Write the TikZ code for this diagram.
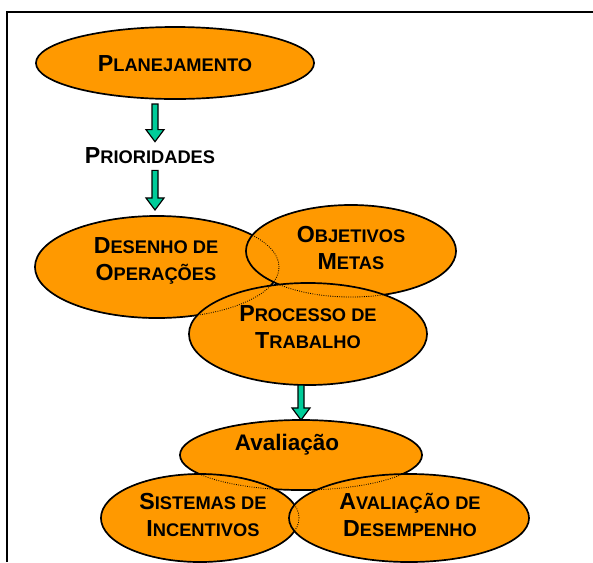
\documentclass[tikz,border=0pt]{standalone}
\usepackage{fontspec}
\setmainfont{Liberation Sans}
\usepackage{tikz}
\usetikzlibrary{shapes, calc, positioning}
\definecolor{bubbleorange}{RGB}{255,153,0}
\definecolor{arrowgreen}{RGB}{0,204,153}
\tikzstyle{bubble} = [ellipse, draw=black, line width=1.2pt, fill=bubbleorange, inner sep=0pt, outer sep=0pt]
\tikzstyle{caption} = [inner sep=0pt, align=center, font=\bfseries\fontsize{13}{19}\selectfont]
\tikzstyle{blockarrow} = [fill=arrowgreen, draw=black, line width=0.8pt, line join=miter]
\tikzstyle{hidden} = [densely dotted, line width=0.6pt]
\newcommand{\scw}[2]{{\fontsize{16.5}{19}\selectfont #1}{\fontsize{13}{19}\selectfont #2}}
\newcommand{\hiddenedge}[1]{\draw[hidden] let \p0=(#1.center), \p1=(#1.east), \p2=(#1.north) in (\p0) ellipse ({\x1-\x0} and {\y2-\y0});}
\newcommand{\blockarrow}[2]{\draw[blockarrow] let \p1=#1, \p2=#2 in (\x1-0.075cm,\y1) -- (\x1+0.075cm,\y1) -- (\x1+0.075cm,\y2+0.3cm) -- (\x1+0.225cm,\y2+0.3cm) -- (\x1,\y2) -- (\x1-0.225cm,\y2+0.3cm) -- (\x1-0.075cm,\y2+0.3cm) -- cycle;}

\begin{document}
\begin{tikzpicture}[x=0.025cm, y=-0.025cm]
\useasboundingbox (0,0) rectangle (593,562);

\draw [line width=1.7pt] (7,562) -- (7,12) -- (593,12);

\node [bubble, minimum width=6.95cm, minimum height=1.8cm] (plan) at (175,63) {};
\node [caption] (planT) at (175,63.5) {\scw{P}{LANEJAMENTO}};
\node [caption] (prio) at (150,156) {\scw{P}{RIORIDADES}};

% three overlapping bubbles, back to front
\node [bubble, minimum width=6.1cm, minimum height=2.55cm] (desenho) at (157,267) {};
\node [bubble, minimum width=5.25cm, minimum height=2.3cm] (objetivos) at (351,251) {};
\node [bubble, minimum width=5.95cm, minimum height=2.55cm] (processo) at (308,334) {};
\hiddenedge{desenho}
\hiddenedge{objetivos}
\node [caption] (desenhoT) at (156,261) {\scw{D}{ESENHO DE}\\\scw{O}{PERAÇÕES}};
\node [caption] (objetivosT) at (351,248) {\scw{O}{BJETIVOS}\\\scw{M}{ETAS}};
\node [caption] (processoT) at (308,327) {\scw{P}{ROCESSO DE}\\\scw{T}{RABALHO}};

% evaluation group
\node [bubble, minimum width=6.05cm, minimum height=1.75cm] (avaliacao) at (301,455) {};
\node [bubble, minimum width=4.95cm, minimum height=2.2cm] (sistemas) at (200,518) {};
\node [bubble, minimum width=6cm, minimum height=2.2cm] (desempenho) at (409,518) {};
\hiddenedge{avaliacao}
\hiddenedge{sistemas}
\node [caption, anchor=base, font=\bfseries\fontsize{16}{19}\selectfont] (avaliacaoT) at (287,450) {Avaliação};
\node [caption] (sistemasT) at (203,515) {\scw{S}{ISTEMAS DE}\\\scw{I}{NCENTIVOS}};
\node [caption] (desempenhoT) at (410,515) {\scw{A}{VALIAÇÃO DE}\\\scw{D}{ESEMPENHO}};

% arrows
\blockarrow{($(plan.south)+(-20,5)$)}{($(prio.north)+(5,-6)$)}
\blockarrow{($(prio.south)+(5,6)$)}{($(desenho.north)+(-2,-6)$)}
\blockarrow{(processo.south -| avaliacao.north)}{(avaliacao.north)}

\end{tikzpicture}
\end{document}
